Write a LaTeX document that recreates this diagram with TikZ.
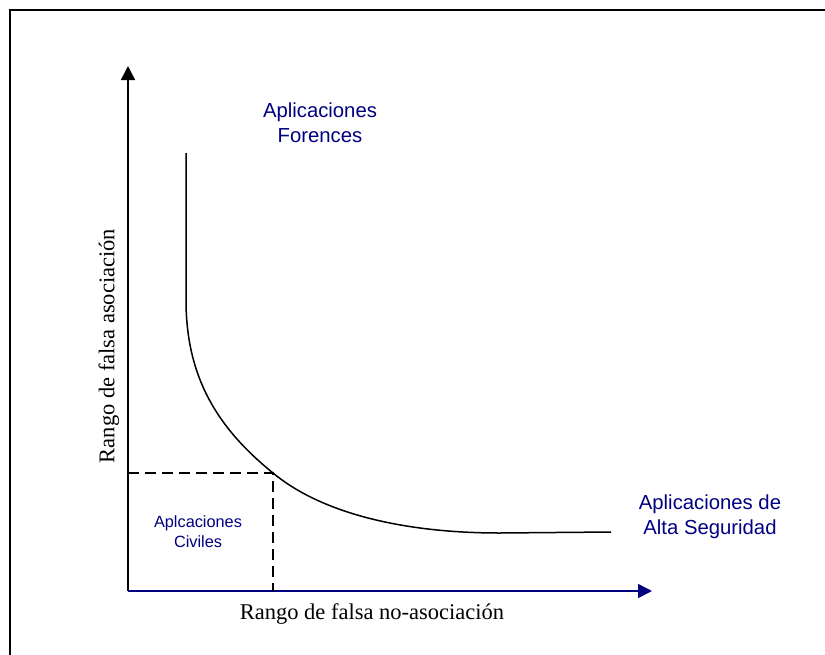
\documentclass[tikz,border=0pt]{standalone}
\usepackage{fontspec}
\setmainfont{Liberation Serif}
\newfontfamily\arialfont{Liberation Sans}
\usetikzlibrary{arrows.meta}
\definecolor{navyblue}{RGB}{0,0,128}

\begin{document}
\begin{tikzpicture}[x=1pt, y=-1pt,
    axislabel/.style={font=\fontsize{22.5}{27}\selectfont},
    applabel/.style={font=\arialfont\fontsize{20.3}{25}\selectfont, text=navyblue, align=center},
    smalllabel/.style={font=\arialfont\fontsize{16.3}{20}\selectfont, text=navyblue, align=center},
    axisarrow/.style={line width=1.5pt, -{Triangle[width=14pt,length=14pt]}}]
    \useasboundingbox (0,0) rectangle (825,654);
    \draw[line width=2.5pt] (10,670) -- (10,10) -- (840,10) -- (840,670);
    \coordinate (O) at (128,591);
    \coordinate (ytop) at (128,66);
    \coordinate (xend) at (652,591);
    \coordinate (cut) at (273,473);
    \coordinate (cutx) at (273,591);
    \coordinate (cuty) at (128,473);
    \coordinate (ctop) at (186,153);
    \coordinate (cend) at (611,532);
    \draw[axisarrow] (O) -- (ytop);
    \draw[axisarrow, navyblue] (O) -- (xend);
    \draw[dash pattern=on 11pt off 6pt, line width=1.3pt] (cuty) -- (cut) -- (cutx);
    \draw[line width=1.5pt] (ctop) -- (186,300) .. controls (186,380) and (220,430) .. (cut)
        .. controls (320,512) and (400,533) .. (500,533) -- (cend);
    \node[applabel] (foren) at (320,123) {Aplicaciones\\Forences};
    \node[applabel] (alta) at (710,517) {Aplicaciones de\\Alta Seguridad};
    \node[smalllabel] (civ) at (198,532) {Aplcaciones\\Civiles};
    \node[axislabel] (xlab) at (372,614) {Rango de falsa no-asociación};
    \node[axislabel, rotate=90] (ylab) at (109,346) {Rango de falsa asociación};
\end{tikzpicture}
\end{document}
